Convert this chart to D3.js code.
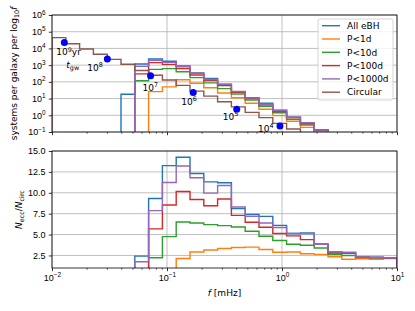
<!DOCTYPE html>
<html>
<head>
<meta charset="utf-8">
<script src="https://cdn.jsdelivr.net/npm/d3@7"></script>
<style>
  html, body { margin: 0; padding: 0; background: #fff; }
  svg { display: block; font-family: "DejaVu Sans", sans-serif; }
</style>
</head>
<body>
<svg id="chart" width="415" height="311"></svg>
<script>
// log10 of the bin edges, f in mHz
const binLogEdges = [-2.00, -1.88, -1.76, -1.64, -1.52, -1.40, -1.28, -1.16, -1.04, -0.92, -0.80, -0.68, -0.56,
  -0.44, -0.32, -0.20, -0.08, 0.04, 0.16, 0.28, 0.40, 0.52, 0.64, 0.76, 0.88, 1.00];

const seriesNames = ["All eBH", "P<1d", "P<10d", "P<100d", "P<1000d", "Circular"];
const seriesColors = ["#1f77b4", "#ff7f0e", "#2ca02c", "#d62728", "#9467bd", "#8c564b"];

// top panel: systems per galaxy per log10 f
const countAll = [0, 0, 0, 0, 0, 18, 1160, 2330, 1720, 884, 344, 158, 73, 26, 11.1, 5.2, 2.0, 0.77, 0.36, 0.133, 0, 0, 0, 0, 0];
const countP1d = [0, 0, 0, 0, 0, 0, 0, 26, 50, 133, 82, 44, 21.6, 11.2, 5.3, 2.3, 0.95, 0.44, 0.19, 0.09, 0, 0, 0, 0, 0];
const countP10d = [0, 0, 0, 0, 0, 0, 117, 558, 619, 404, 179, 87, 39.5, 18.9, 8.1, 3.46, 1.42, 0.58, 0.26, 0.119, 0, 0, 0, 0, 0];
const countP100d = [0, 0, 0, 0, 0, 0, 300, 1420, 1110, 630, 258, 118, 60, 23.4, 9.7, 4.2, 1.69, 0.73, 0.31, 0.135, 0, 0, 0, 0, 0];
const countP1000d = [0, 0, 0, 0, 0, 0, 840, 1965, 1460, 819, 330, 139, 70.7, 26.6, 10.8, 4.6, 1.93, 0.77, 0.356, 0.133, 0, 0, 0, 0, 0];
const countCirc = [44000, 19000, 9300, 4500, 2200, 1120, 480, 250, 130, 62, 28, 14, 6.5, 3.2, 1.5, 0.72, 0.33, 0.15, 0.07, 0.035, 0, 0, 0, 0, 0];

// bottom panel: N_ecc / N_circ
const ratioAll = [0, 0, 0, 0, 0, 0, 2.42, 9.32, 13.25, 14.25, 12.3, 11.3, 11.2, 8.1, 7.4, 7.18, 6.1, 5.12, 5.2, 3.85, 2.94, 2.85, 2.31, 2.3, 2.2];
const ratioP1d = [0, 0, 0, 0, 0, 0, 0, 0, 0, 2.14, 2.92, 3.15, 3.33, 3.45, 3.5, 3.21, 2.89, 2.91, 2.7, 2.63, 2.35, 2.05, 2.1, 2.03, 2.12];
const ratioP10d = [0, 0, 0, 0, 0, 0, 0, 2.23, 4.76, 6.51, 6.39, 6.19, 6.07, 5.91, 5.39, 4.8, 4.29, 3.85, 3.73, 3.4, 2.65, 2.5, 2.3, 2.22, 2.15];
const ratioP100d = [0, 0, 0, 0, 0, 0, 0, 5.68, 8.54, 10.16, 9.2, 8.45, 9.25, 7.3, 6.47, 5.87, 5.12, 4.85, 4.4, 3.85, 2.8, 2.75, 2.25, 2.22, 2.15];
const ratioP1000d = [0, 0, 0, 0, 0, 0, 1.75, 7.86, 11.23, 13.21, 11.8, 9.96, 10.87, 8.3, 7.18, 6.39, 5.85, 5.12, 5.08, 3.85, 2.94, 2.85, 2.31, 2.28, 2.18];

// t_gw markers on the circular curve
const dotExp = [9, 8, 7, 6, 5, 4];
const dotFreq = [0.0128, 0.0303, 0.072, 0.169, 0.404, 0.96];
const dotCount = [23000, 2300, 230, 23, 2.3, 0.23];
const dotLabelShift = [[-8, 13], [-20, 12], [-8, 15], [-12, 12], [-14, 11], [-22, 6]];

const topTicks = [-1, 0, 1, 2, 3, 4, 5, 6];
const botTicks = [2.5, 5.0, 7.5, 10.0, 12.5, 15.0];
const xTicks = [-2, -1, 0, 1];

const counts = [countAll, countP1d, countP10d, countP100d, countP1000d, countCirc];
const ratios = [ratioAll, ratioP1d, ratioP10d, ratioP100d, ratioP1000d];

const svg = d3.select("#chart");
const W = 415;
const left = 52, right = 397;
const topBox = { y0: 15, y1: 132 };
const botBox = { y0: 151, y1: 268 };
const fs = 9, supFs = 6.4;

const x = d3.scaleLog().domain([0.01, 10]).range([left, right]);
const yTop = d3.scaleLog().domain([0.1, 1e6]).range([topBox.y1, topBox.y0]);
const yBot = d3.scaleLinear().domain([1, 15]).range([botBox.y1, botBox.y0]);

const edges = binLogEdges.map((e) => Math.pow(10, e));
const minorX = [];
[0.01, 0.1, 1].forEach((d) => { for (let k = 2; k <= 9; k++) minorX.push(d * k); });

function sup(textSel, base, exp) {
  textSel.text(null);
  textSel.append("tspan").text(base);
  textSel.append("tspan").attr("dy", -3.8).attr("font-size", supFs).text(exp);
}
function expStr(e) { return e < 0 ? "\u2212" + (-e) : String(e); }

function clip(id, box) {
  svg.append("clipPath").attr("id", id)
    .append("rect").attr("x", left).attr("y", box.y0).attr("width", right - left).attr("height", box.y1 - box.y0);
}
clip("clipTop", topBox);
clip("clipBot", botBox);

function grid(box, yScale, yVals) {
  const g = svg.append("g").attr("stroke", "#b0b0b0").attr("stroke-width", 0.8);
  g.selectAll("line.gx").data(xTicks).join("line")
    .attr("x1", (d) => x(Math.pow(10, d))).attr("x2", (d) => x(Math.pow(10, d)))
    .attr("y1", box.y0).attr("y2", box.y1);
  g.selectAll("line.gy").data(yVals).join("line")
    .attr("x1", left).attr("x2", right)
    .attr("y1", (d) => yScale(d)).attr("y2", (d) => yScale(d));
}
grid(topBox, yTop, topTicks.map((e) => Math.pow(10, e)));
grid(botBox, yBot, botTicks);

function stepPath(vals, yScale, floor) {
  const pts = [[x(edges[0]), yScale(floor)]];
  vals.forEach((v, i) => {
    const yy = yScale(v > floor ? v : floor);
    pts.push([x(edges[i]), yy]);
    pts.push([x(edges[i + 1]), yy]);
  });
  pts.push([x(edges[edges.length - 1]), yScale(floor)]);
  return d3.line()(pts);
}

const topLines = svg.append("g").attr("clip-path", "url(#clipTop)");
counts.forEach((vals, i) => {
  topLines.append("path").attr("d", stepPath(vals, yTop, 1e-3))
    .attr("fill", "none").attr("stroke", seriesColors[i]).attr("stroke-width", 1.4);
});

const botLines = svg.append("g").attr("clip-path", "url(#clipBot)");
ratios.forEach((vals, i) => {
  botLines.append("path").attr("d", stepPath(vals, yBot, 0))
    .attr("fill", "none").attr("stroke", seriesColors[i]).attr("stroke-width", 1.4);
});

// t_gw markers
const dots = dotExp.map((e, i) => ({ e, f: dotFreq[i], n: dotCount[i], s: dotLabelShift[i] }));
svg.append("g").selectAll("circle").data(dots).join("circle")
  .attr("cx", (d) => x(d.f)).attr("cy", (d) => yTop(d.n)).attr("r", 3.5).attr("fill", "#0000ff");
const lab = svg.append("g").attr("font-size", fs).attr("fill", "#000");
lab.selectAll("text").data(dots).join("text")
  .attr("x", (d) => x(d.f) + d.s[0]).attr("y", (d) => yTop(d.n) + d.s[1])
  .each(function (d) {
    const t = d3.select(this);
    sup(t, "10", String(d.e));
    if (d.e === 9) t.append("tspan").attr("dy", 3.8).text("yr");
  });
const tgw = lab.append("text").attr("x", x(dots[0].f) + 2).attr("y", yTop(dots[0].n) + 26);
tgw.append("tspan").attr("font-style", "italic").text("t");
tgw.append("tspan").attr("dy", 2).attr("font-size", supFs).text("gw");

// axes
function xAxis(box, labels) {
  const g = svg.append("g").attr("transform", `translate(0,${box.y1})`);
  g.call(d3.axisBottom(x).tickValues(xTicks.map((e) => Math.pow(10, e))).tickSize(3.2).tickPadding(3.2));
  g.call((s) => s.select(".domain").remove());
  g.selectAll("text").attr("font-size", fs).attr("font-family", null).attr("fill", "#000")
    .each(function (d) {
      if (labels) sup(d3.select(this), "10", expStr(Math.round(Math.log10(d))));
      else d3.select(this).remove();
    });
  g.selectAll(".tick line").attr("stroke", "#000").attr("stroke-width", 0.8);
  const m = svg.append("g").attr("transform", `translate(0,${box.y1})`);
  m.call(d3.axisBottom(x).tickValues(minorX).tickSize(1.8).tickFormat(""));
  m.call((s) => s.select(".domain").remove());
  m.selectAll(".tick line").attr("stroke", "#000").attr("stroke-width", 0.6);
}
xAxis(topBox, false);
xAxis(botBox, true);

const gTopY = svg.append("g").attr("transform", `translate(${left},0)`)
  .call(d3.axisLeft(yTop).tickValues(topTicks.map((e) => Math.pow(10, e))).tickSize(3.2).tickPadding(3.2));
gTopY.select(".domain").remove();
gTopY.selectAll("text").attr("font-size", fs).attr("font-family", null).attr("fill", "#000")
  .each(function (d) { sup(d3.select(this), "10", expStr(Math.round(Math.log10(d)))); });
gTopY.selectAll(".tick line").attr("stroke", "#000").attr("stroke-width", 0.8);

const gBotY = svg.append("g").attr("transform", `translate(${left},0)`)
  .call(d3.axisLeft(yBot).tickValues(botTicks).tickSize(3.2).tickPadding(3.2).tickFormat(d3.format(".1f")));
gBotY.select(".domain").remove();
gBotY.selectAll("text").attr("font-size", fs).attr("font-family", null).attr("fill", "#000");
gBotY.selectAll(".tick line").attr("stroke", "#000").attr("stroke-width", 0.8);

[topBox, botBox].forEach((b) => {
  svg.append("rect").attr("x", left).attr("y", b.y0).attr("width", right - left).attr("height", b.y1 - b.y0)
    .attr("fill", "none").attr("stroke", "#000").attr("stroke-width", 0.8);
});

// axis labels
const yl1 = svg.append("text").attr("font-size", fs).attr("text-anchor", "middle")
  .attr("transform", `translate(17,${(topBox.y0 + topBox.y1) / 2}) rotate(-90)`);
yl1.append("tspan").text("systems per galaxy per log");
yl1.append("tspan").attr("dy", 2).attr("font-size", supFs).text("10");
yl1.append("tspan").attr("dy", -2).attr("font-style", "italic").text("f");

const yl2 = svg.append("text").attr("font-size", fs).attr("text-anchor", "middle")
  .attr("transform", `translate(22,${(botBox.y0 + botBox.y1) / 2}) rotate(-90)`);
yl2.append("tspan").attr("font-style", "italic").text("N");
yl2.append("tspan").attr("dy", 2).attr("font-size", supFs).text("ecc");
yl2.append("tspan").attr("dy", -2).text("/");
yl2.append("tspan").attr("font-style", "italic").text("N");
yl2.append("tspan").attr("dy", 2).attr("font-size", supFs).text("circ");

const xl = svg.append("text").attr("font-size", fs).attr("text-anchor", "middle")
  .attr("x", (left + right) / 2).attr("y", 296);
xl.append("tspan").attr("font-style", "italic").text("f");
xl.append("tspan").text(" [mHz]");

// legend
const leg = svg.append("g").attr("transform", "translate(318,19)");
leg.append("rect").attr("width", 75).attr("height", 81).attr("rx", 2)
  .attr("fill", "#fff").attr("fill-opacity", 0.8).attr("stroke", "#cccccc").attr("stroke-width", 0.8);
seriesNames.forEach((name, i) => {
  const yy = 6.7 + 13.3 * i;
  leg.append("line").attr("x1", 4).attr("x2", 22).attr("y1", yy).attr("y2", yy)
    .attr("stroke", seriesColors[i]).attr("stroke-width", 1.4);
  leg.append("text").attr("x", 29).attr("y", yy + 3.2).attr("font-size", fs).text(name);
});
</script>
</body>
</html>
